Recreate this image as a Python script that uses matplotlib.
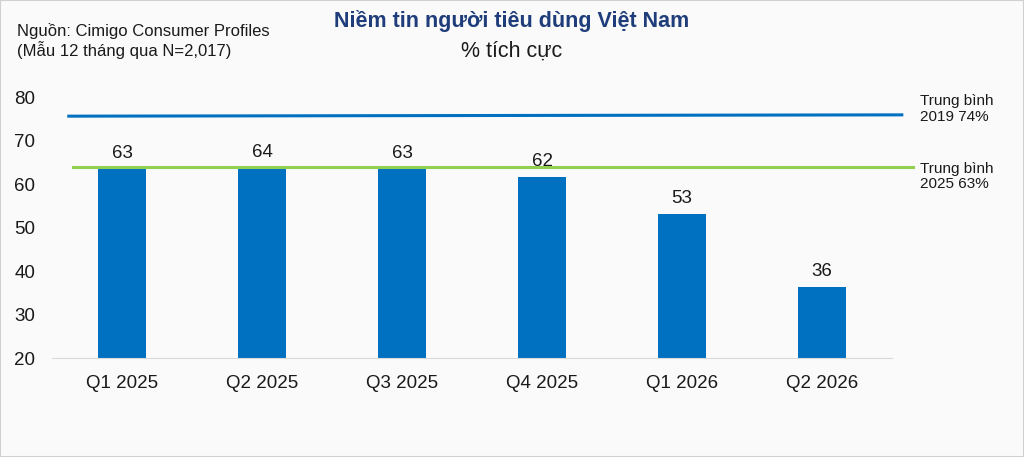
import matplotlib.pyplot as plt
import numpy as np

plt.rcParams['font.family'] = ['Liberation Sans', 'DejaVu Sans']

quarters = ['Q1 2025', 'Q2 2025', 'Q3 2025', 'Q4 2025', 'Q1 2026', 'Q2 2026']
positive = [63.5, 63.7, 63.5, 61.7, 53.2, 36.4]
labels = ['63', '64', '63', '62', '53', '36']
avg_2019 = [75.6, 75.9]   # start / end of the drawn line
avg_2025 = [63.8, 63.8]

blue = '#0070C0'
green = '#92D050'
navy = '#1F3D7A'
bg = '#FAFAFA'

fig = plt.figure(figsize=(10.24, 4.57), dpi=100, facecolor=bg)
ax = fig.add_axes([0.0508, 0.2166, 0.8203, 0.5711], facecolor=bg)

x = np.arange(len(quarters))
ax.bar(x, positive, width=0.343, color=blue, zorder=2)
for xi, v, lab in zip(x, positive, labels):
    ax.text(xi, v + 1.5, lab, ha='center', va='bottom', fontsize=13.5, color='#1a1a1a')

ax.plot([-0.38, 5.57], avg_2019, color=blue, lw=2.2, clip_on=False, zorder=3)
ax.plot([-0.35, 5.65], avg_2025, color=green, lw=2.2, clip_on=False, zorder=3)

ax.set_xlim(-0.5, 5.5)
ax.set_ylim(20, 80)
ax.set_yticks(range(20, 81, 10))
ax.set_xticks(x)
ax.set_xticklabels(quarters)
ax.tick_params(length=0, labelsize=13.5, colors='#1a1a1a')
ax.tick_params(axis='x', pad=12)
ax.tick_params(axis='y', pad=12)
for s in ['top', 'right', 'left']:
    ax.spines[s].set_visible(False)
ax.spines['bottom'].set_color('#d9d9d9')
ax.spines['bottom'].set_linewidth(0.8)

fig.text(0.898, 0.761, 'Trung bình\n2019 74%', fontsize=11, va='center', ha='left',
         color='#1a1a1a', linespacing=1.15)
fig.text(0.898, 0.614, 'Trung bình\n2025 63%', fontsize=11, va='center', ha='left',
         color='#1a1a1a', linespacing=1.15)

fig.text(0.5, 0.953, 'Niềm tin người tiêu dùng Việt Nam', ha='center', va='center',
         fontsize=15.5, fontweight='bold', color=navy)
fig.text(0.5, 0.888, '% tích cực', ha='center', va='center', fontsize=15.5, color='#1a1a1a')
fig.text(0.017, 0.91, 'Nguồn: Cimigo Consumer Profiles\n(Mẫu 12 tháng qua N=2,017)',
         ha='left', va='center', fontsize=12, color='#1a1a1a', linespacing=1.15)

fig.patches.append(plt.Rectangle((0, 0), 1, 1, transform=fig.transFigure, fill=False,
                                 edgecolor='#d0d0d0', lw=1.5))

fig.savefig('out.png', dpi=100, facecolor=bg)
